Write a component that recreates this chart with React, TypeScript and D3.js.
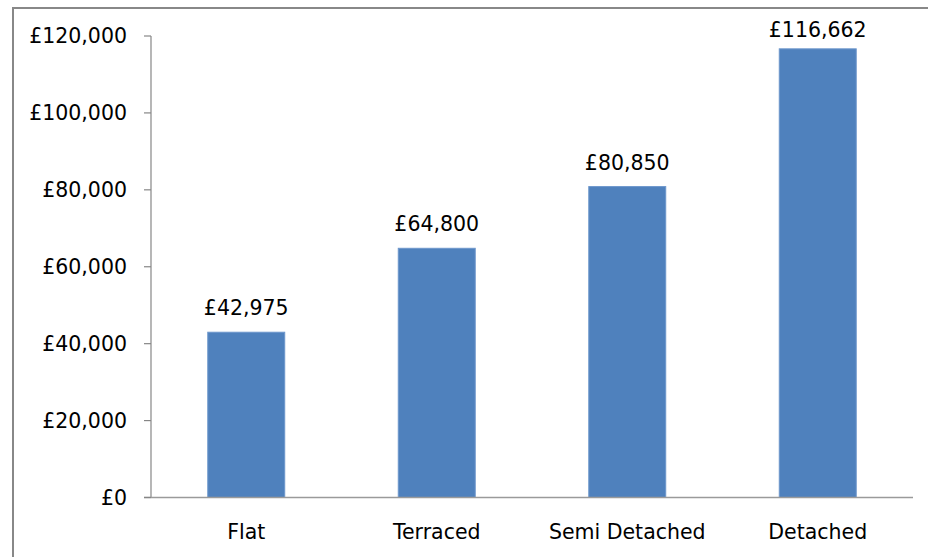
import React from "react";
import * as d3 from "d3";

const categories = ["Flat", "Terraced", "Semi Detached", "Detached"];
const values = [42975, 64800, 80850, 116662];
const yTicks = [0, 20000, 40000, 60000, 80000, 100000, 120000];

const W = 928;
const H = 557;
const plot = { left: 151, right: 913, top: 36, bottom: 497.5 };
const FONT = "'DejaVu Sans', sans-serif";
const FS = 20.5;

const fmt = (v: number) => "£" + d3.format(",")(v);

export default function App() {
  const x = d3
    .scaleBand<string>()
    .domain(categories)
    .range([plot.left, plot.right])
    .paddingInner(0.596)
    .paddingOuter(0.298);
  const y = d3.scaleLinear().domain([0, 120000]).range([plot.bottom, plot.top]);

  return (
    <svg
      width={W}
      height={H}
      style={{ position: "absolute", left: 0, top: 0, background: "#fff" }}
    >
      <rect x={0} y={0} width={W} height={H} fill="#fff" />
      <rect
        x={13}
        y={8}
        width={W + 20}
        height={H + 20}
        fill="none"
        stroke="#888"
        strokeWidth={2}
      />
      {categories.map((c, i) => (
        <rect
          key={c}
          x={x(c)}
          y={y(values[i])}
          width={x.bandwidth()}
          height={y(0) - y(values[i])}
          fill="#4F81BD"
          stroke="#6d97cc"
          strokeWidth={1}
        />
      ))}
      <line
        x1={plot.left}
        x2={plot.left}
        y1={plot.top}
        y2={plot.bottom}
        stroke="#868686"
        strokeWidth={1.2}
      />
      <line
        x1={plot.left - 7}
        x2={plot.right}
        y1={plot.bottom}
        y2={plot.bottom}
        stroke="#9a9a9a"
        strokeWidth={1.6}
      />
      {yTicks.map((t) => (
        <g key={t}>
          <line
            x1={plot.left - 7}
            x2={plot.left}
            y1={y(t)}
            y2={y(t)}
            stroke="#868686"
            strokeWidth={1.2}
          />
          <text
            x={127}
            y={y(t)}
            dy="0.36em"
            textAnchor="end"
            fontFamily={FONT}
            fontSize={FS}
            fill="#000"
          >
            {fmt(t)}
          </text>
        </g>
      ))}
      {categories.map((c) => (
        <text
          key={c}
          x={(x(c) as number) + x.bandwidth() / 2}
          y={539}
          textAnchor="middle"
          fontFamily={FONT}
          fontSize={FS}
          fill="#000"
        >
          {c}
        </text>
      ))}
      {categories.map((c, i) => (
        <text
          key={c}
          x={(x(c) as number) + x.bandwidth() / 2}
          y={Math.max(y(values[i]) - 17, 37)}
          textAnchor="middle"
          fontFamily={FONT}
          fontSize={FS}
          fill="#000"
        >
          {fmt(values[i])}
        </text>
      ))}
    </svg>
  );
}
